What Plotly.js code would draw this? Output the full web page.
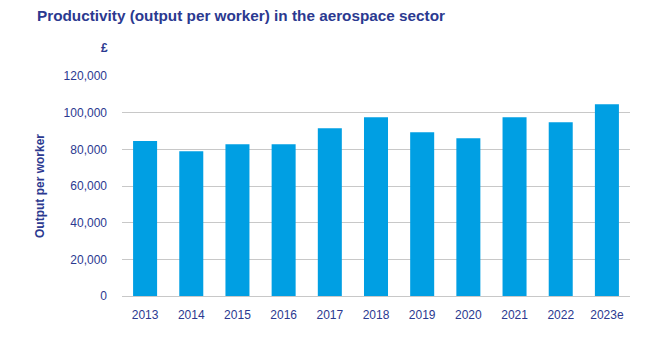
<!DOCTYPE html>
<html>
<head>
<meta charset="utf-8">
<script src="https://cdn.plot.ly/plotly-3.0.1.min.js"></script>
<style>html,body{margin:0;padding:0;background:#fff;}#chart{width:666px;height:337px;}</style>
</head>
<body>
<div id="chart"></div>
<script>
const years = ["2013","2014","2015","2016","2017","2018","2019","2020","2021","2022","2023e"];
const output = [84500, 79000, 82800, 82800, 91500, 97500, 89300, 86100, 97500, 94800, 104600];
const yTicks = [0, 20000, 40000, 60000, 80000, 100000, 120000];
const yTickText = ["0","20,000","40,000","60,000","80,000","100,000","120,000"];

const navy = "#2b3990";
const fontFam = "Liberation Sans, Arial, sans-serif";

const data = [{
  type: "bar",
  x: years,
  y: output,
  marker: {color: "#009fe3"},
  hoverinfo: "x+y"
}];

const layout = {
  width: 666, height: 337,
  margin: {l: 122, r: 36, t: 76, b: 41},
  paper_bgcolor: "#fff", plot_bgcolor: "#fff",
  bargap: 0.48,
  showlegend: false,
  font: {family: fontFam, color: navy, size: 12},
  title: {
    text: "<b>Productivity (output per worker) in the aerospace sector</b>",
    x: 37/666, xanchor: "left", xref: "container",
    y: 1 - 16/337, yanchor: "middle", yref: "container",
    font: {family: fontFam, size: 15.3, color: navy}
  },
  xaxis: {
    type: "category",
    showgrid: false, showline: false, zeroline: false,
    ticks: "", ticklabelstandoff: 10,
    tickfont: {family: fontFam, size: 12, color: navy}
  },
  yaxis: {
    range: [0, 120000],
    tickvals: yTicks, ticktext: yTickText,
    showgrid: true, gridcolor: "#c8c8c8", gridwidth: 1,
    zeroline: true, zerolinecolor: "#c8c8c8", zerolinewidth: 1,
    showline: false, ticks: "", ticklabelstandoff: 14,
    tickfont: {family: fontFam, size: 12, color: navy},
    title: {text: "<b>Output per worker</b>", standoff: 16, font: {family: fontFam, size: 12, color: navy}}
  },
  annotations: [{
    text: "<b>£</b>", xref: "paper", yref: "paper",
    x: (104 - 122)/508, y: (296 - 48)/220, xanchor: "center", yanchor: "middle",
    showarrow: false, font: {family: fontFam, size: 12, color: navy}
  }]
};

Plotly.newPlot("chart", data, layout, {displayModeBar: false, staticPlot: true});
</script>
</body>
</html>
